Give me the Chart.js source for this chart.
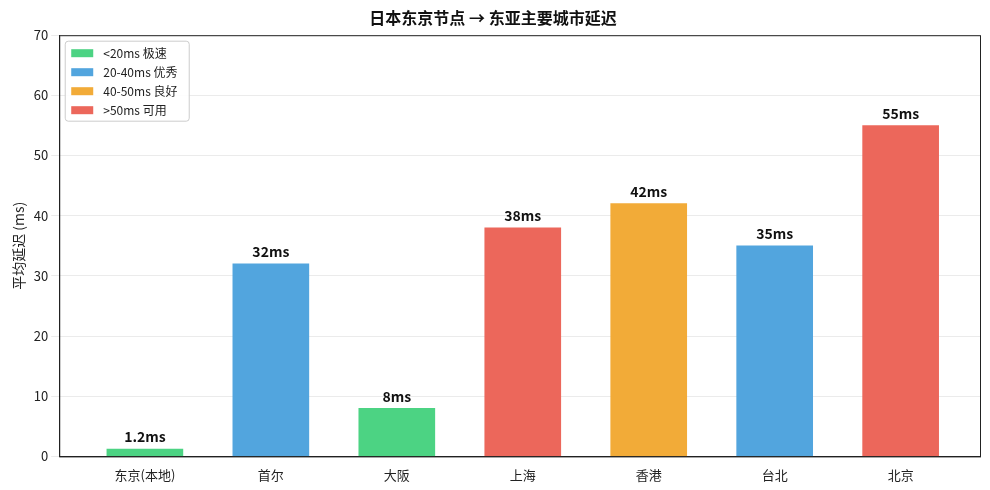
<!DOCTYPE html>
<html><head><meta charset="utf-8">
<script src="https://cdn.jsdelivr.net/npm/chart.js@4/dist/chart.umd.min.js"></script>
<style>html,body{margin:0;padding:0;background:#fff}#w{width:990px;height:490px}</style>
</head><body><div id="w"><canvas id="c"></canvas></div>
<script>
const categories=["东京(本地)","首尔","大阪","上海","香港","台北","北京"];
const latency=[1.2,32,8,38,42,35,55];
const labels=["1.2ms","32ms","8ms","38ms","42ms","35ms","55ms"];
const barColors=["#4cd383","#52a5de","#4cd383","#ec675b","#f2ab38","#52a5de","#ec675b"];
const legendNames=["<20ms 极速","20-40ms 优秀","40-50ms 良好",">50ms 可用"];
const legendColors=["#4cd383","#52a5de","#f2ab38","#ec675b"];
const F="'Noto Sans CJK SC','Noto Sans',sans-serif";
const deco={id:'deco',afterDatasetsDraw(ch){
 const c=ch.ctx,a=ch.chartArea,m=ch.getDatasetMeta(0);
 c.save();c.fillStyle='#111';c.font='bold 14px '+F;c.textAlign='center';c.textBaseline='bottom';
 m.data.forEach((b,i)=>c.fillText(labels[i],b.x,b.y-5));
 c.strokeStyle='#222';c.lineWidth=1;c.strokeRect(a.left+0.5,a.top+0.5,a.right-a.left,a.bottom-a.top);
 const x=a.left+6,y=a.top+6,w=124,h=80;
 c.fillStyle='rgba(255,255,255,0.9)';c.strokeStyle='#ccc';c.beginPath();c.roundRect(x,y,w,h,3);c.fill();c.stroke();
 c.font='12px '+F;c.textAlign='left';c.textBaseline='middle';
 legendNames.forEach((n,i)=>{const yy=y+12+i*19;c.fillStyle=legendColors[i];c.fillRect(x+6,yy-4,22,8);c.fillStyle='#222';c.fillText(n,x+38,yy);});
 c.restore();}};
new Chart(document.getElementById('c'),{type:'bar',
data:{datasets:[{data:latency.map((v,i)=>({x:i,y:v})),backgroundColor:barColors,barThickness:76}]},
options:{responsive:true,maintainAspectRatio:false,animation:false,
layout:{padding:{left:6,right:10,top:2,bottom:4}},
plugins:{legend:{display:false},tooltip:{enabled:false},
 title:{display:true,text:'日本东京节点 → 东亚主要城市延迟',color:'#111',font:{family:F,size:16,weight:'bold'},padding:{top:6,bottom:8}}},
scales:{x:{type:'linear',min:-0.68,max:6.63,offset:false,grid:{display:false},border:{color:'#222'},
  afterBuildTicks:s=>{s.ticks=categories.map((_,i)=>({value:i}));},
  ticks:{color:'#222',font:{family:F,size:13},callback:v=>categories[v]}},
 y:{min:0,max:70,ticks:{stepSize:10,color:'#222',font:{family:F,size:13}},grid:{color:'#ebebeb'},border:{color:'#222'},
  title:{display:true,text:'平均延迟 (ms)',color:'#222',font:{family:F,size:14}}}}},
plugins:[deco]});
</script></body></html>
